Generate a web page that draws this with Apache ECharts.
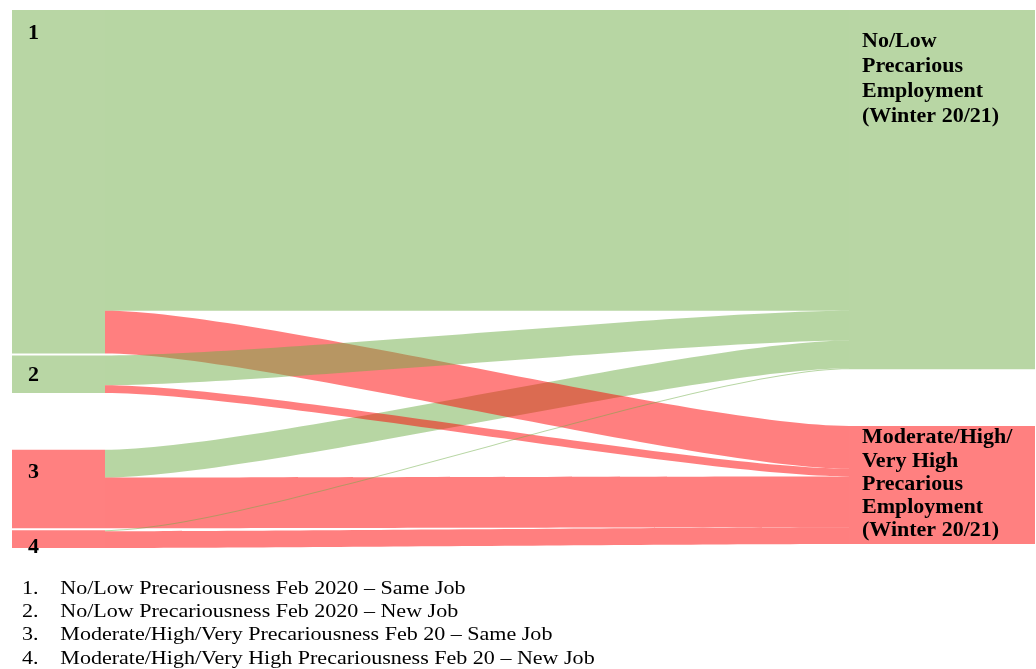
<!DOCTYPE html>
<html>
<head>
<meta charset="utf-8">
<script src="https://cdn.jsdelivr.net/npm/echarts@6/dist/echarts.min.js"></script>
<style>
html,body{margin:0;padding:0;background:#ffffff;}
#chart{width:1036px;height:669px;}
</style>
</head>
<body>
<div id="chart"></div>
<script>
// ---------- data ----------
const sourceNodes = ['1', '2', '3', '4'];
const targetNodes = [
  'No/Low Precarious Employment (Winter 20/21)',
  'Moderate/High/Very High Precarious Employment (Winter 20/21)'
];
const targetLabels = [
  'No/Low\nPrecarious\nEmployment\n(Winter 20/21)',
  'Moderate/High/\nVery High\nPrecarious\nEmployment\n(Winter 20/21)'
];
// flow values from each source node (1..4)
const toNoLow   = [303, 30, 28, 1];
const toModHigh = [43, 8, 51, 17];
const legendLines = [
  'No/Low Precariousness Feb 2020 \u2013 Same Job',
  'No/Low Precariousness Feb 2020 \u2013 New Job',
  'Moderate/High/Very Precariousness Feb 20 \u2013 Same Job',
  'Moderate/High/Very High Precariousness Feb 20 \u2013 New Job'
];

// ---------- styles / layout helpers ----------
const GREEN = '#70AD47', RED = '#FF0000';
const GREEN_FILL = '#B8D6A4', RED_FILL = '#FF8080';
const targetColor = [GREEN, RED];
const sourceFill = [GREEN_FILL, GREEN_FILL, RED_FILL, RED_FILL];
const targetFill = [GREEN_FILL, RED_FILL];
const GAP_VALUE = 53;            // invisible spacer that opens the gap between groups
const leftLabelY = [12, 9, 12, 6];
const rightLabelPos = [[13, 19], [13, 0]];
const rightLineHeight = [25, 23.3];
const serif = '"Liberation Serif", "Times New Roman", serif';

const sumNoLow = toNoLow.reduce((a, b) => a + b, 0);
const sumModHigh = toModHigh.reduce((a, b) => a + b, 0);
const targetSums = [sumNoLow, sumModHigh];

const hidden = { itemStyle: { opacity: 0 }, label: { show: false }, silent: true };

const nodes = [];
// continuation of the wide right-hand boxes (drawn first)
targetNodes.forEach((n, i) => {
  nodes.push({ name: n + ' \u200b', depth: 10,
    itemStyle: { color: targetFill[i], borderWidth: 0 }, label: { show: false } });
  if (i === 0) nodes.push(Object.assign({ name: 'gapC', depth: 10 }, hidden));
});
// left boxes
sourceNodes.forEach((n, i) => {
  nodes.push({ name: n, depth: 0,
    itemStyle: { color: sourceFill[i], borderWidth: 0 },
    label: { show: true, position: [16, leftLabelY[i]], align: 'left', verticalAlign: 'top',
      fontFamily: serif, fontWeight: 'bold', fontSize: 22, color: '#000' } });
  if (i === 1) nodes.push(Object.assign({ name: 'gapL', depth: 0 }, hidden));
});
// right boxes
targetNodes.forEach((n, i) => {
  nodes.push({ name: n, depth: 9,
    itemStyle: { color: targetFill[i], borderWidth: 0 },
    label: { show: true, formatter: targetLabels[i], position: rightLabelPos[i],
      align: 'left', verticalAlign: 'top',
      fontFamily: serif, fontWeight: 'bold', fontSize: 22, lineHeight: rightLineHeight[i], color: '#000' } });
  if (i === 0) nodes.push(Object.assign({ name: 'gapR', depth: 9 }, hidden));
});

const invisibleLine = { opacity: 0 };
const links = [
  { source: 'gapL', target: 'gapR', value: GAP_VALUE, lineStyle: invisibleLine, silent: true },
  { source: 'gapR', target: 'gapC', value: GAP_VALUE, lineStyle: invisibleLine, silent: true }
];
targetNodes.forEach((n, i) => {
  links.push({ source: n, target: n + ' \u200b', value: targetSums[i], lineStyle: invisibleLine });
});
// drawing order reproduces the overlaps of the original
const flowOrder = [[0, 0], [2, 0], [0, 1], [1, 0], [1, 1], [2, 1], [3, 1], [3, 0]];
flowOrder.forEach(([s, t]) => {
  const v = t === 0 ? toNoLow[s] : toModHigh[s];
  links.push({ source: sourceNodes[s], target: targetNodes[t], value: v,
    lineStyle: { color: targetColor[t], opacity: 0.5, curveness: 0.2 } });
});

const legendText = legendLines.map((l, i) => '{n|' + (i + 1) + '.}{t|' + l + '}').join('\n');

const chart = echarts.init(document.getElementById('chart'), null, { renderer: 'canvas' });
chart.setOption({
  backgroundColor: '#ffffff',
  animation: false,
  series: [{
    type: 'sankey',
    left: 12, right: 1, top: 10, bottom: 121,
    nodeWidth: 93,
    nodeGap: 2,
    nodeAlign: 'left',
    layoutIterations: 0,
    draggable: false,
    emphasis: { disabled: true },
    data: nodes,
    links: links,
    lineStyle: { curveness: 0.2 }
  }],
  graphic: [{
    type: 'text',
    left: 22, top: 577,
    scaleX: 1.16,
    style: {
      text: legendText,
      fill: '#000',
      font: '19px ' + serif,
      lineHeight: 23.3,
      rich: {
        n: { width: 33, fontSize: 19, fontFamily: serif, lineHeight: 23.3, fill: '#000' },
        t: { fontSize: 19, fontFamily: serif, lineHeight: 23.3, fill: '#000' }
      }
    }
  }]
});
</script>
</body>
</html>
